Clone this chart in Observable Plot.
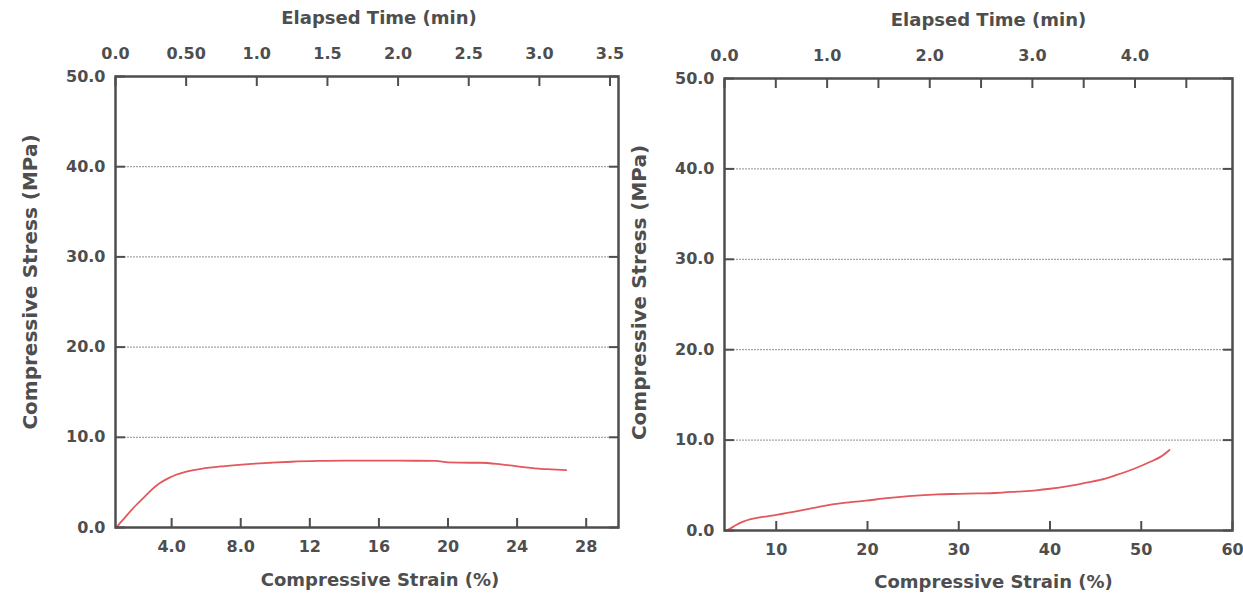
<!DOCTYPE html>
<html>
<head>
<meta charset="utf-8">
<script src="https://cdn.jsdelivr.net/npm/d3@7"></script>
<script src="https://cdn.jsdelivr.net/npm/@observablehq/plot@0.6"></script>
<style>
  body { margin: 0; background: #fff; }
  #chart { position: relative; width: 1243px; height: 598px; overflow: hidden; background: #fff; }
  #chart svg { position: absolute; top: 0; }
</style>
</head>
<body>
<div id="chart"></div>
<script>
// Stress axis (shared by both panels)
const stressTicks = [0, 10, 20, 30, 40, 50];
const stressGrid = [10, 20, 30, 40];

// Left specimen: compressive strain (%) vs stress (MPa)
const leftStrain = [0.8, 1.2, 1.85, 2.4, 2.82, 3.3, 3.79, 4.25, 4.75, 5.72, 7.07, 8.43, 9.78, 10.94, 12.5, 14, 16, 18, 19.3, 20, 21.3, 21.9, 23.07, 24.23, 25.39, 26.0, 26.84];
const leftStress = [0, 0.9, 2.3, 3.35, 4.15, 4.9, 5.45, 5.85, 6.15, 6.51, 6.81, 7.03, 7.18, 7.29, 7.38, 7.42, 7.42, 7.4, 7.38, 7.22, 7.18, 7.18, 7.0, 6.73, 6.5, 6.45, 6.37];
const leftStrainTicks = [4, 8, 12, 16, 20, 24, 28];
const leftTimeTicks = [0, 0.5, 1, 1.5, 2, 2.5, 3, 3.5];

// Right specimen
const rightStrain = [4.5, 5.0, 5.6, 6.3, 7.2, 8.5, 10, 12.6, 14.8, 17.4, 19.8, 22.1, 24.5, 27.7, 30, 32.1, 34, 36.4, 38.5, 40, 42, 44, 45.5, 47.3, 49.15, 51, 52.2, 53.1];
const rightStress = [0, 0.25, 0.6, 0.95, 1.25, 1.5, 1.73, 2.2, 2.65, 3.06, 3.3, 3.57, 3.8, 4.0, 4.05, 4.1, 4.15, 4.3, 4.45, 4.62, 4.92, 5.3, 5.6, 6.15, 6.8, 7.6, 8.2, 8.9];
const rightStrainTicks = [10, 20, 30, 40, 50, 60];
const rightTimeTicks = [0, 0.5, 1, 1.5, 2, 2.5, 3, 3.5, 4, 4.5];

const INK = "#4e4e4e";
const CURVE = "#e2585c";
const FONT = "'DejaVu Sans', sans-serif";
const H = 598;

const chart = document.getElementById("chart");

function baseStyle() {
  return {background: "transparent", overflow: "visible", color: INK, fontFamily: FONT, fontSize: "16px", fontWeight: "bold"};
}

function panel(cfg) {
  const pts = cfg.strain.map((s, i) => ({strain: s, stress: cfg.stress[i]}));
  const margins = {
    width: cfg.width, height: H,
    marginLeft: cfg.marginLeft, marginRight: cfg.marginRight,
    marginTop: cfg.marginTop, marginBottom: cfg.marginBottom
  };

  // strain / stress plot
  const main = Plot.plot({
    ...margins,
    style: baseStyle(),
    x: {domain: cfg.strainDomain},
    y: {domain: [0, 50]},
    marks: [
      Plot.gridY(stressGrid, {stroke: "#6a6a6a", strokeOpacity: 0.75, strokeWidth: 1, strokeDasharray: "2,1"}),
      Plot.axisY(stressTicks, {anchor: "left", tickSize: -10, tickPadding: 20, strokeWidth: 2,
        tickFormat: d => d.toFixed(1), label: null}),
      Plot.axisY(stressTicks, {anchor: "right", tickSize: -10, strokeWidth: 2,
        tickFormat: () => "", label: null}),
      Plot.axisX(cfg.strainTicks, {anchor: "bottom", tickSize: -9, tickPadding: 22, strokeWidth: 2,
        tickFormat: cfg.strainFormat, label: null}),
      Plot.line(pts, {x: "strain", y: "stress", stroke: CURVE, strokeWidth: 1.8, curve: "monotone-x"}),
      Plot.frame({stroke: INK, strokeWidth: 2.5}),
      Plot.text(["Compressive Stress (MPa)"], {frameAnchor: "left", rotate: -90, textAnchor: "middle", lineAnchor: "middle",
        dx: cfg.yTitleDx, dy: cfg.yTitleDy, fontSize: 20, fontWeight: "bold", fill: INK}),
      Plot.text(["Compressive Strain (%)"], {frameAnchor: "bottom", textAnchor: "middle", lineAnchor: "middle",
        dx: cfg.xTitleDx, dy: cfg.xTitleDy, fontSize: 18, fontWeight: "bold", fill: INK})
    ]
  });

  // elapsed-time axis along the top edge
  const top = Plot.plot({
    ...margins,
    style: baseStyle(),
    x: {domain: cfg.timeDomain},
    marks: [
      Plot.axisX(cfg.timeTicks, {anchor: "top", tickSize: -9, tickPadding: cfg.timePadding, strokeWidth: 2,
        tickFormat: cfg.timeFormat, label: null}),
      Plot.text(["Elapsed Time (min)"], {frameAnchor: "top", textAnchor: "middle", lineAnchor: "middle",
        dx: cfg.tTitleDx, dy: cfg.tTitleDy, fontSize: 18, fontWeight: "bold", fill: INK})
    ]
  });

  for (const svg of [main, top]) {
    svg.style.left = cfg.left + "px";
    chart.appendChild(svg);
  }
}

panel({
  left: 0, width: 620,
  marginLeft: 115, marginRight: 2, marginTop: 76, marginBottom: 71,
  strainDomain: [0.75, 29.87], timeDomain: [0, 3.56],
  strain: leftStrain, stress: leftStress,
  strainTicks: leftStrainTicks,
  strainFormat: d => d < 10 ? d.toFixed(1) : String(d),
  timeTicks: leftTimeTicks,
  timeFormat: d => d === 0.5 ? "0.50" : d.toFixed(1),
  timePadding: 27,
  yTitleDx: -85, yTitleDy: -20,
  xTitleDx: 13, xTitleDy: 53,
  tTitleDx: 12, tTitleDy: -58
});

panel({
  left: 620, width: 623,
  marginLeft: 104, marginRight: 11, marginTop: 78, marginBottom: 68,
  strainDomain: [4.33, 60], timeDomain: [0, 4.95],
  strain: rightStrain, stress: rightStress,
  strainTicks: rightStrainTicks,
  strainFormat: d => String(d),
  timeTicks: rightTimeTicks,
  timeFormat: d => Number.isInteger(d) ? d.toFixed(1) : "",
  timePadding: 27,
  yTitleDx: -85, yTitleDy: -12,
  xTitleDx: 15, xTitleDy: 52,
  tTitleDx: 10, tTitleDy: -58
});
</script>
</body>
</html>
